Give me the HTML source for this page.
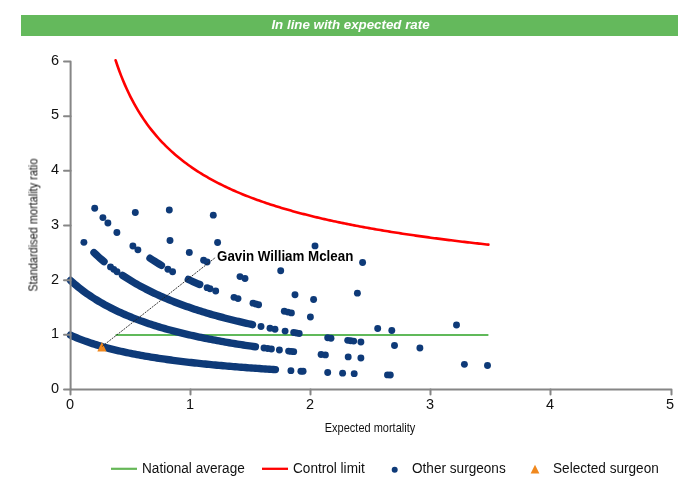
<!DOCTYPE html>
<html><head><meta charset="utf-8"><style>
div{will-change:transform;}
html,body{margin:0;padding:0;background:#fff;width:700px;height:500px;overflow:hidden;position:relative;font-family:"Liberation Sans",sans-serif;}
.bar{position:absolute;left:21px;top:15px;width:657px;height:21px;background:#64b95c;color:#fff;font-weight:bold;font-style:italic;font-size:13.3px;line-height:19px;text-indent:2px;text-align:center;}
svg{position:absolute;left:0;top:0;}
.yl{position:absolute;left:39.3px;width:20px;text-align:right;font-size:14.5px;line-height:18px;color:#111;}
.xl{position:absolute;top:394.6px;width:40px;text-align:center;font-size:14.5px;line-height:18px;color:#111;}
.ytitle{position:absolute;left:33.4px;top:224.6px;transform:translate(-50%,-50%) rotate(-90deg) scaleY(1.1);font-size:10.95px;white-space:nowrap;color:#111;}
.xtitle{position:absolute;left:370.3px;top:422.4px;transform:translateX(-50%) scaleY(1.09);font-size:11px;white-space:nowrap;color:#111;}
.name{position:absolute;left:217.4px;top:248.8px;font-size:13.35px;font-weight:bold;color:#000;white-space:nowrap;transform:scaleY(1.15);transform-origin:0 12.6px;}
.leg{position:absolute;top:460px;font-size:13.6px;line-height:18px;color:#111;white-space:nowrap;transform:scaleY(1.05);transform-origin:0 13px;}
</style></head><body>
<div class="bar">In line with expected rate</div>
<svg width="700" height="500" viewBox="0 0 700 500">
<line x1="115.60" y1="335.05" x2="488.40" y2="335.05" stroke="#60b95a" stroke-width="2.1"/>
<path d="M115.60,60.27 L117.46,65.77 L119.33,70.96 L121.19,75.86 L123.06,80.49 L124.92,84.88 L126.78,89.06 L128.65,93.03 L130.51,96.81 L132.38,100.43 L134.24,103.88 L136.10,107.18 L137.97,110.35 L139.83,113.39 L141.70,116.31 L143.56,119.11 L145.42,121.81 L147.29,124.41 L149.15,126.92 L151.02,129.34 L152.88,131.68 L154.74,133.94 L156.61,136.13 L158.47,138.24 L160.34,140.29 L162.20,142.28 L164.06,144.21 L165.93,146.08 L167.79,147.90 L169.66,149.66 L171.52,151.38 L173.38,153.05 L175.25,154.67 L177.11,156.25 L178.98,157.80 L180.84,159.30 L182.70,160.76 L184.57,162.19 L186.43,163.58 L188.30,164.94 L190.16,166.27 L192.02,167.57 L193.89,168.84 L195.75,170.08 L197.62,171.29 L199.48,172.48 L201.34,173.64 L203.21,174.77 L205.07,175.88 L206.94,176.97 L208.80,178.04 L210.66,179.09 L212.53,180.11 L214.39,181.12 L216.26,182.10 L218.12,183.07 L219.98,184.02 L221.85,184.95 L223.71,185.87 L225.58,186.76 L227.44,187.65 L229.30,188.51 L231.17,189.36 L233.03,190.20 L234.90,191.02 L236.76,191.83 L238.62,192.63 L240.49,193.41 L242.35,194.18 L244.22,194.93 L246.08,195.68 L247.94,196.41 L249.81,197.13 L251.67,197.84 L253.54,198.54 L255.40,199.23 L257.26,199.91 L259.13,200.58 L260.99,201.24 L262.86,201.89 L264.72,202.52 L266.58,203.15 L268.45,203.78 L270.31,204.39 L272.18,204.99 L274.04,205.59 L275.90,206.18 L277.77,206.76 L279.63,207.33 L281.50,207.89 L283.36,208.45 L285.22,209.00 L287.09,209.54 L288.95,210.08 L290.82,210.61 L292.68,211.13 L294.54,211.64 L296.41,212.15 L298.27,212.66 L300.14,213.15 L302.00,213.64 L303.86,214.13 L305.73,214.61 L307.59,215.08 L309.46,215.55 L311.32,216.01 L313.18,216.47 L315.05,216.92 L316.91,217.37 L318.78,217.81 L320.64,218.25 L322.50,218.68 L324.37,219.11 L326.23,219.53 L328.10,219.95 L329.96,220.36 L331.82,220.77 L333.69,221.17 L335.55,221.57 L337.42,221.97 L339.28,222.36 L341.14,222.75 L343.01,223.13 L344.87,223.51 L346.74,223.89 L348.60,224.26 L350.46,224.63 L352.33,225.00 L354.19,225.36 L356.06,225.72 L357.92,226.07 L359.78,226.42 L361.65,226.77 L363.51,227.11 L365.38,227.45 L367.24,227.79 L369.10,228.13 L370.97,228.46 L372.83,228.79 L374.70,229.11 L376.56,229.43 L378.42,229.75 L380.29,230.07 L382.15,230.38 L384.02,230.70 L385.88,231.00 L387.74,231.31 L389.61,231.61 L391.47,231.91 L393.34,232.21 L395.20,232.50 L397.06,232.80 L398.93,233.09 L400.79,233.37 L402.66,233.66 L404.52,233.94 L406.38,234.22 L408.25,234.50 L410.11,234.78 L411.98,235.05 L413.84,235.32 L415.70,235.59 L417.57,235.86 L419.43,236.12 L421.30,236.38 L423.16,236.64 L425.02,236.90 L426.89,237.16 L428.75,237.41 L430.62,237.67 L432.48,237.92 L434.34,238.17 L436.21,238.41 L438.07,238.66 L439.94,238.90 L441.80,239.14 L443.66,239.38 L445.53,239.62 L447.39,239.85 L449.26,240.09 L451.12,240.32 L452.98,240.55 L454.85,240.78 L456.71,241.01 L458.58,241.23 L460.44,241.46 L462.30,241.68 L464.17,241.90 L466.03,242.12 L467.90,242.34 L469.76,242.55 L471.62,242.77 L473.49,242.98 L475.35,243.19 L477.22,243.40 L479.08,243.61 L480.94,243.82 L482.81,244.02 L484.67,244.23 L486.54,244.43 L488.40,244.63" fill="none" stroke="#ff0000" stroke-width="2.6" stroke-linecap="round"/>
<path d="M70.50,335.13 L72.51,336.03 L74.52,336.90 L76.53,337.74 L78.54,338.56 L80.54,339.35 L82.55,340.12 L84.56,340.86 L86.57,341.59 L88.58,342.29 L90.59,342.97 L92.60,343.63 L94.61,344.28 L96.61,344.90 L98.62,345.51 L100.63,346.10 L102.64,346.68 L104.65,347.24 L106.66,347.79 L108.67,348.32 L110.68,348.84 L112.69,349.35 L114.69,349.84 L116.70,350.33 L118.71,350.80 L120.72,351.26 L122.73,351.71 L124.74,352.15 L126.75,352.58 L128.76,353.00 L130.76,353.41 L132.77,353.81 L134.78,354.20 L136.79,354.58 L138.80,354.96 L140.81,355.33 L142.82,355.69 L144.83,356.04 L146.84,356.39 L148.84,356.72 L150.85,357.06 L152.86,357.38 L154.87,357.70 L156.88,358.01 L158.89,358.32 L160.90,358.62 L162.91,358.91 L164.91,359.20 L166.92,359.49 L168.93,359.77 L170.94,360.04 L172.95,360.31 L174.96,360.57 L176.97,360.83 L178.98,361.09 L180.99,361.34 L182.99,361.58 L185.00,361.82 L187.01,362.06 L189.02,362.30 L191.03,362.53 L193.04,362.75 L195.05,362.97 L197.06,363.19 L199.06,363.41 L201.07,363.62 L203.08,363.83 L205.09,364.03 L207.10,364.23 L209.11,364.43 L211.12,364.63 L213.13,364.82 L215.14,365.01 L217.14,365.20 L219.15,365.38 L221.16,365.56 L223.17,365.74 L225.18,365.92 L227.19,366.09 L229.20,366.26 L231.21,366.43 L233.21,366.59 L235.22,366.76 L237.23,366.92 L239.24,367.08 L241.25,367.24 L243.26,367.39 L245.27,367.54 L247.28,367.69 L249.29,367.84 L251.29,367.99 L253.30,368.13 L255.31,368.28 L257.32,368.42 L259.33,368.56 L261.34,368.69 L263.35,368.83 L265.36,368.96 L267.36,369.10 L269.37,369.23 L271.38,369.36 L273.39,369.48 L275.40,369.61" fill="none" stroke="#0e3a78" stroke-width="7.4" stroke-linecap="round" stroke-linejoin="round"/>
<path d="M70.50,280.46 L72.51,282.26 L74.52,284.00 L76.53,285.69 L78.54,287.33 L80.55,288.91 L82.56,290.44 L84.57,291.93 L86.58,293.38 L88.59,294.78 L90.60,296.15 L92.61,297.47 L94.62,298.76 L96.63,300.01 L98.64,301.23 L100.65,302.41 L102.66,303.57 L104.67,304.69 L106.68,305.79 L108.69,306.85 L110.70,307.90 L112.71,308.91 L114.72,309.90 L116.72,310.87 L118.73,311.81 L120.74,312.73 L122.75,313.63 L124.76,314.51 L126.77,315.37 L128.78,316.20 L130.79,317.03 L132.80,317.83 L134.81,318.61 L136.82,319.38 L138.83,320.13 L140.84,320.87 L142.85,321.59 L144.86,322.29 L146.87,322.98 L148.88,323.66 L150.89,324.32 L152.90,324.97 L154.91,325.61 L156.92,326.24 L158.93,326.85 L160.94,327.45 L162.95,328.04 L164.96,328.62 L166.97,329.19 L168.98,329.74 L170.99,330.29 L173.00,330.83 L175.01,331.36 L177.02,331.88 L179.03,332.39 L181.04,332.89 L183.05,333.38 L185.06,333.86 L187.07,334.34 L189.08,334.80 L191.09,335.26 L193.10,335.72 L195.11,336.16 L197.12,336.60 L199.13,337.03 L201.14,337.45 L203.15,337.87 L205.16,338.28 L207.17,338.68 L209.18,339.08 L211.18,339.47 L213.19,339.85 L215.20,340.23 L217.21,340.61 L219.22,340.97 L221.23,341.34 L223.24,341.69 L225.25,342.05 L227.26,342.39 L229.27,342.73 L231.28,343.07 L233.29,343.40 L235.30,343.73 L237.31,344.05 L239.32,344.37 L241.33,344.69 L243.34,344.99 L245.35,345.30 L247.36,345.60 L249.37,345.90 L251.38,346.19 L253.39,346.48 L255.40,346.77" fill="none" stroke="#0e3a78" stroke-width="7.4" stroke-linecap="round" stroke-linejoin="round"/>
<path d="M94.00,252.65 L96.00,254.53 L98.00,256.37 L100.00,258.15 L102.00,259.89 L104.00,261.58" fill="none" stroke="#0e3a78" stroke-width="7.4" stroke-linecap="round" stroke-linejoin="round"/>
<circle cx="110.50" cy="266.89" r="3.45" fill="#0e3a78"/>
<circle cx="113.75" cy="269.34" r="3.45" fill="#0e3a78"/>
<circle cx="117.00" cy="271.69" r="3.45" fill="#0e3a78"/>
<path d="M122.50,275.37 L124.50,276.69 L126.50,277.98 L128.50,279.23 L130.50,280.46 L132.50,281.66 L134.50,282.84 L136.50,283.99 L138.50,285.11 L140.50,286.21 L142.50,287.29 L144.50,288.35 L146.50,289.39 L148.50,290.40 L150.50,291.39 L152.50,292.37 L154.50,293.32 L156.50,294.26 L158.50,295.18 L160.50,296.08 L162.50,296.96 L164.50,297.83 L166.50,298.68 L168.50,299.52 L170.50,300.34 L172.50,301.15 L174.50,301.94 L176.50,302.72 L178.50,303.48 L180.50,304.23 L182.50,304.97 L184.50,305.69 L186.50,306.41 L188.50,307.11 L190.50,307.80 L192.50,308.47 L194.50,309.14 L196.50,309.80 L198.50,310.44 L200.50,311.08 L202.50,311.70 L204.50,312.31 L206.50,312.92 L208.50,313.52 L210.50,314.10 L212.50,314.68 L214.50,315.25 L216.50,315.81 L218.50,316.36 L220.50,316.91 L222.50,317.44 L224.50,317.97 L226.50,318.49 L228.50,319.00 L230.50,319.51 L232.50,320.01 L234.50,320.50 L236.50,320.98 L238.50,321.46 L240.50,321.93 L242.50,322.40 L244.50,322.86 L246.50,323.31 L248.50,323.76 L250.50,324.20 L252.50,324.63" fill="none" stroke="#0e3a78" stroke-width="7.4" stroke-linecap="round" stroke-linejoin="round"/>
<circle cx="132.90" cy="246.03" r="3.45" fill="#0e3a78"/>
<circle cx="137.90" cy="249.87" r="3.45" fill="#0e3a78"/>
<path d="M150.00,258.26 L152.28,259.75 L154.56,261.20 L156.84,262.62 L159.12,264.01 L161.40,265.37" fill="none" stroke="#0e3a78" stroke-width="7.4" stroke-linecap="round" stroke-linejoin="round"/>
<circle cx="167.90" cy="269.19" r="3.45" fill="#0e3a78"/>
<circle cx="172.60" cy="271.75" r="3.45" fill="#0e3a78"/>
<path d="M188.30,279.45 L190.58,280.50 L192.86,281.52 L195.14,282.53 L197.42,283.52 L199.70,284.50" fill="none" stroke="#0e3a78" stroke-width="7.4" stroke-linecap="round" stroke-linejoin="round"/>
<circle cx="207.10" cy="287.63" r="3.45" fill="#0e3a78"/>
<circle cx="210.00" cy="288.78" r="3.45" fill="#0e3a78"/>
<circle cx="234.00" cy="297.34" r="3.45" fill="#0e3a78"/>
<circle cx="238.00" cy="298.62" r="3.45" fill="#0e3a78"/>
<circle cx="253.00" cy="303.15" r="3.45" fill="#0e3a78"/>
<circle cx="255.80" cy="303.95" r="3.45" fill="#0e3a78"/>
<circle cx="258.60" cy="304.73" r="3.45" fill="#0e3a78"/>
<circle cx="284.30" cy="311.29" r="3.45" fill="#0e3a78"/>
<circle cx="287.85" cy="312.11" r="3.45" fill="#0e3a78"/>
<circle cx="291.40" cy="312.92" r="3.45" fill="#0e3a78"/>
<circle cx="203.60" cy="260.30" r="3.45" fill="#0e3a78"/>
<circle cx="207.10" cy="262.07" r="3.45" fill="#0e3a78"/>
<circle cx="240.00" cy="276.59" r="3.45" fill="#0e3a78"/>
<circle cx="245.00" cy="278.52" r="3.45" fill="#0e3a78"/>
<circle cx="264.00" cy="348.05" r="3.45" fill="#0e3a78"/>
<circle cx="267.70" cy="348.54" r="3.45" fill="#0e3a78"/>
<circle cx="271.40" cy="349.01" r="3.45" fill="#0e3a78"/>
<circle cx="288.60" cy="351.09" r="3.45" fill="#0e3a78"/>
<circle cx="291.15" cy="351.38" r="3.45" fill="#0e3a78"/>
<circle cx="293.70" cy="351.67" r="3.45" fill="#0e3a78"/>
<circle cx="321.10" cy="354.50" r="3.45" fill="#0e3a78"/>
<circle cx="325.40" cy="354.90" r="3.45" fill="#0e3a78"/>
<circle cx="270.00" cy="328.30" r="3.45" fill="#0e3a78"/>
<circle cx="275.00" cy="329.25" r="3.45" fill="#0e3a78"/>
<circle cx="293.70" cy="332.55" r="3.45" fill="#0e3a78"/>
<circle cx="296.45" cy="333.01" r="3.45" fill="#0e3a78"/>
<circle cx="299.20" cy="333.46" r="3.45" fill="#0e3a78"/>
<circle cx="327.70" cy="337.72" r="3.45" fill="#0e3a78"/>
<circle cx="331.00" cy="338.18" r="3.45" fill="#0e3a78"/>
<circle cx="347.70" cy="340.35" r="3.45" fill="#0e3a78"/>
<circle cx="350.70" cy="340.72" r="3.45" fill="#0e3a78"/>
<circle cx="353.70" cy="341.09" r="3.45" fill="#0e3a78"/>
<circle cx="300.90" cy="371.18" r="3.45" fill="#0e3a78"/>
<circle cx="303.10" cy="371.29" r="3.45" fill="#0e3a78"/>
<circle cx="387.50" cy="374.89" r="3.45" fill="#0e3a78"/>
<circle cx="390.30" cy="374.98" r="3.45" fill="#0e3a78"/>
<circle cx="94.70" cy="208.25" r="3.45" fill="#0e3a78"/>
<circle cx="102.90" cy="217.60" r="3.45" fill="#0e3a78"/>
<circle cx="107.90" cy="223.00" r="3.45" fill="#0e3a78"/>
<circle cx="116.90" cy="232.50" r="3.45" fill="#0e3a78"/>
<circle cx="135.30" cy="212.50" r="3.45" fill="#0e3a78"/>
<circle cx="83.90" cy="242.36" r="3.45" fill="#0e3a78"/>
<circle cx="169.30" cy="210.00" r="3.45" fill="#0e3a78"/>
<circle cx="213.30" cy="215.16" r="3.45" fill="#0e3a78"/>
<circle cx="170.00" cy="240.46" r="3.45" fill="#0e3a78"/>
<circle cx="217.60" cy="242.53" r="3.45" fill="#0e3a78"/>
<circle cx="189.30" cy="252.54" r="3.45" fill="#0e3a78"/>
<circle cx="315.00" cy="245.91" r="3.45" fill="#0e3a78"/>
<circle cx="362.60" cy="262.54" r="3.45" fill="#0e3a78"/>
<circle cx="357.40" cy="293.16" r="3.45" fill="#0e3a78"/>
<circle cx="280.70" cy="270.69" r="3.45" fill="#0e3a78"/>
<circle cx="215.70" cy="290.95" r="3.45" fill="#0e3a78"/>
<circle cx="295.00" cy="294.68" r="3.45" fill="#0e3a78"/>
<circle cx="313.60" cy="299.56" r="3.45" fill="#0e3a78"/>
<circle cx="310.40" cy="316.99" r="3.45" fill="#0e3a78"/>
<circle cx="261.00" cy="326.51" r="3.45" fill="#0e3a78"/>
<circle cx="285.10" cy="331.08" r="3.45" fill="#0e3a78"/>
<circle cx="360.90" cy="341.94" r="3.45" fill="#0e3a78"/>
<circle cx="394.50" cy="345.57" r="3.45" fill="#0e3a78"/>
<circle cx="419.90" cy="347.97" r="3.45" fill="#0e3a78"/>
<circle cx="377.70" cy="328.47" r="3.45" fill="#0e3a78"/>
<circle cx="391.80" cy="330.44" r="3.45" fill="#0e3a78"/>
<circle cx="456.50" cy="325.07" r="3.45" fill="#0e3a78"/>
<circle cx="279.40" cy="350.01" r="3.45" fill="#0e3a78"/>
<circle cx="348.20" cy="356.91" r="3.45" fill="#0e3a78"/>
<circle cx="360.90" cy="357.93" r="3.45" fill="#0e3a78"/>
<circle cx="464.40" cy="364.37" r="3.45" fill="#0e3a78"/>
<circle cx="487.50" cy="365.47" r="3.45" fill="#0e3a78"/>
<circle cx="290.90" cy="370.63" r="3.45" fill="#0e3a78"/>
<circle cx="327.70" cy="372.51" r="3.45" fill="#0e3a78"/>
<circle cx="342.60" cy="373.17" r="3.45" fill="#0e3a78"/>
<circle cx="354.20" cy="373.65" r="3.45" fill="#0e3a78"/>
<path d="M64,61.6 H70.6 V389.4 H671.5 V394.5" fill="none" stroke="#868686" stroke-width="2" stroke-linejoin="round" stroke-linecap="round"/>
<line x1="64" y1="389.50" x2="70.6" y2="389.50" stroke="#868686" stroke-width="2" stroke-linecap="round"/>
<line x1="64" y1="334.83" x2="70.6" y2="334.83" stroke="#868686" stroke-width="2" stroke-linecap="round"/>
<line x1="64" y1="280.16" x2="70.6" y2="280.16" stroke="#868686" stroke-width="2" stroke-linecap="round"/>
<line x1="64" y1="225.49" x2="70.6" y2="225.49" stroke="#868686" stroke-width="2" stroke-linecap="round"/>
<line x1="64" y1="170.82" x2="70.6" y2="170.82" stroke="#868686" stroke-width="2" stroke-linecap="round"/>
<line x1="64" y1="116.15" x2="70.6" y2="116.15" stroke="#868686" stroke-width="2" stroke-linecap="round"/>
<line x1="70.50" y1="389.4" x2="70.50" y2="394.5" stroke="#868686" stroke-width="2" stroke-linecap="round"/>
<line x1="190.50" y1="389.4" x2="190.50" y2="394.5" stroke="#868686" stroke-width="2" stroke-linecap="round"/>
<line x1="310.50" y1="389.4" x2="310.50" y2="394.5" stroke="#868686" stroke-width="2" stroke-linecap="round"/>
<line x1="430.50" y1="389.4" x2="430.50" y2="394.5" stroke="#868686" stroke-width="2" stroke-linecap="round"/>
<line x1="550.50" y1="389.4" x2="550.50" y2="394.5" stroke="#868686" stroke-width="2" stroke-linecap="round"/>
<polygon points="101.90,342.10 106.50,351.50 97.30,351.50" fill="#f0881e"/>
<line x1="102.3" y1="346.3" x2="215.7" y2="257.3" stroke="#222" stroke-width="0.9" stroke-dasharray="2,1"/>
<line x1="111" y1="468.8" x2="137" y2="468.8" stroke="#66b757" stroke-width="2.2"/>
<line x1="262" y1="468.8" x2="288" y2="468.8" stroke="#ff0000" stroke-width="2.3"/>
<circle cx="394.7" cy="469.7" r="3" fill="#0e3a78"/>
<polygon points="535,464.8 539.4,473.5 530.6,473.5" fill="#f0881e"/>
</svg>
<div class="yl" style="top:378.8px">0</div>
<div class="yl" style="top:324.1px">1</div>
<div class="yl" style="top:269.5px">2</div>
<div class="yl" style="top:214.8px">3</div>
<div class="yl" style="top:160.1px">4</div>
<div class="yl" style="top:105.4px">5</div>
<div class="yl" style="top:50.8px">6</div>
<div class="xl" style="left:50.0px">0</div>
<div class="xl" style="left:170.0px">1</div>
<div class="xl" style="left:290.0px">2</div>
<div class="xl" style="left:410.0px">3</div>
<div class="xl" style="left:530.0px">4</div>
<div class="xl" style="left:650.0px">5</div>
<div class="ytitle">Standardised mortality ratio</div>
<div class="xtitle">Expected mortality</div>
<div class="name">Gavin William Mclean</div>
<div class="leg" style="left:142px">National average</div>
<div class="leg" style="left:293px">Control limit</div>
<div class="leg" style="left:412px">Other surgeons</div>
<div class="leg" style="left:553px">Selected surgeon</div>
</body></html>
